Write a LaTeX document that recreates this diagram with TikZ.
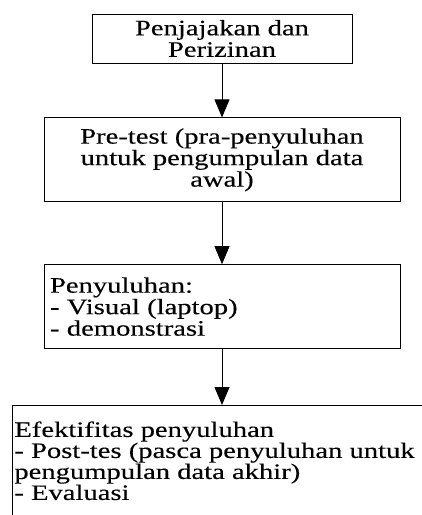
\documentclass[tikz,border=0pt]{standalone}
\usepackage{fontspec}
\setmainfont{Liberation Serif}[FakeStretch=1.3,FakeBold=0.2]
\usetikzlibrary{positioning,arrows.meta}

\begin{document}
\begin{tikzpicture}[x=1pt,y=1pt,
  kotak/.style={draw, line width=0.8pt, inner sep=0pt, font=\fontsize{22}{21.5}\selectfont},
  panah/.style={-{Triangle[length=18pt,width=15pt]}, line width=0.8pt}]
\useasboundingbox (0,0) rectangle (422,-515);
\clip (0,0) rectangle (422,-515);
\node[kotak, minimum width=260pt, minimum height=49pt, align=center] (izin) at (222,-38.5) {Penjajakan dan\\Perizinan};
\node[kotak, minimum width=356pt, minimum height=84pt, align=center, below=54pt of izin] (pretest) {Pre-test (pra-penyuluhan\\untuk pengumpulan data\\awal)};
\node[kotak, minimum height=84pt, inner xsep=6pt, text width=344pt, align=left, below=62pt of pretest] (suluh) {Penyuluhan:\\- Visual (laptop)\\- demonstrasi};
\node[kotak, anchor=north west, inner xsep=2pt, inner ysep=16pt, font=\fontsize{22}{20}\selectfont] (efek) at (12,-405)
  {\parbox[t][150pt][t]{440pt}{Efektifitas penyuluhan\\- Post-tes (pasca penyuluhan untuk\\pengumpulan data akhir)\\- Evaluasi}};

\draw[panah] (izin) -- (pretest);
\draw[panah] (pretest) -- (suluh);
\draw[panah] (suluh) -- (suluh|-efek.north);
\end{tikzpicture}
\end{document}
